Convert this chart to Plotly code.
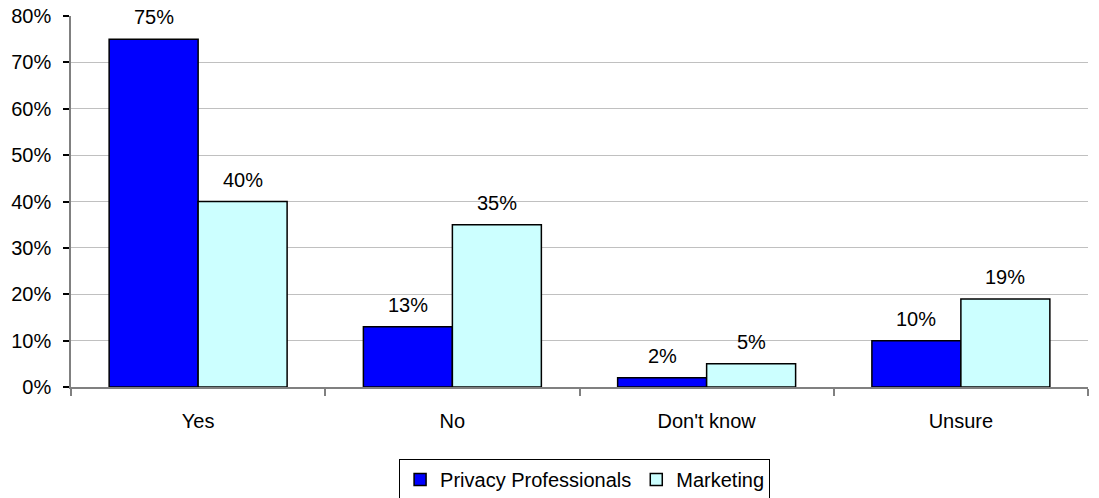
import plotly.graph_objects as go

categories = ["Yes", "No", "Don't know", "Unsure"]
privacy_professionals = [75, 13, 2, 10]
marketing = [40, 35, 5, 19]
y_ticks = [0, 10, 20, 30, 40, 50, 60, 70, 80]
y_tick_labels = [f"{v}%" for v in y_ticks]

FONT = "Liberation Sans, Arial, sans-serif"
FS = 20

fig = go.Figure()
fig.add_trace(go.Bar(
    name="Privacy Professionals", x=categories, y=privacy_professionals,
    marker=dict(color="#0000FF", line=dict(color="#000000", width=1.5)),
))
fig.add_trace(go.Bar(
    name="Marketing", x=categories, y=marketing,
    marker=dict(color="#CCFFFF", line=dict(color="#000000", width=1.5)),
))

# value labels above each bar
half = 0.35 / 2
for i, (a, b) in enumerate(zip(privacy_professionals, marketing)):
    for off, v in ((-half, a), (half, b)):
        fig.add_annotation(
            x=i + off, y=v, xref="x", yref="y", text=f"{v}%",
            showarrow=False, yanchor="bottom", yshift=9,
            font=dict(family=FONT, size=FS, color="#000000"),
        )

fig.update_layout(
    width=1099, height=498,
    margin=dict(l=71, r=11, t=16, b=111, autoexpand=False),
    paper_bgcolor="#FFFFFF", plot_bgcolor="#FFFFFF",
    barmode="group", bargap=0.3, bargroupgap=0,
    font=dict(family=FONT, size=FS, color="#000000"),
    showlegend=True,
    legend=dict(
        orientation="h", x=0.505, xanchor="center", xref="paper",
        y=1 - 459 / 498, yanchor="top", yref="container",
        bordercolor="#000000", borderwidth=1, bgcolor="#FFFFFF",
        font=dict(family=FONT, size=FS, color="#000000"),
        itemwidth=30, tracegroupgap=0,
    ),
    xaxis=dict(
        type="category", showgrid=False, showline=True,
        linecolor="#808080", linewidth=1.5,
        ticks="outside", tickson="boundaries", ticklen=7,
        tickcolor="#808080", tickwidth=1.5,
        ticklabelstandoff=15,
        tickfont=dict(family=FONT, size=FS, color="#000000"),
    ),
    yaxis=dict(
        range=[0, 80], tickvals=y_ticks, ticktext=y_tick_labels,
        showgrid=True, gridcolor="#C0C0C0", gridwidth=1,
        showline=True, linecolor="#808080", linewidth=1.5,
        ticks="outside", ticklen=6, tickcolor="#000000", tickwidth=1.5,
        zeroline=False, ticklabelstandoff=8,
        tickfont=dict(family=FONT, size=FS, color="#000000"),
    ),
)

fig.write_html("out.html")
